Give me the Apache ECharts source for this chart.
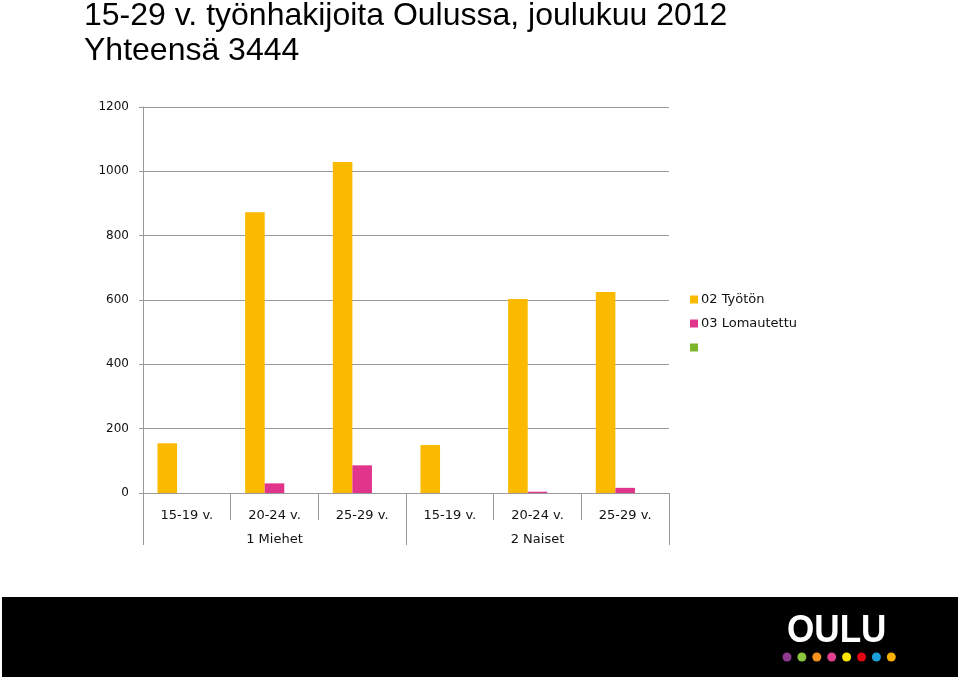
<!DOCTYPE html>
<html>
<head>
<meta charset="utf-8">
<script src="https://cdn.jsdelivr.net/npm/echarts@6/dist/echarts.min.js"></script>
<style>
html,body{margin:0;padding:0;background:#fff;}
#chart{width:960px;height:679px;}
</style>
</head>
<body>
<div id="chart"></div>
<script>
const titleLines = ['15-29 v. työnhakijoita Oulussa, joulukuu 2012', 'Yhteensä 3444'];
const ageCategories = ['15-19 v.', '20-24 v.', '25-29 v.', '15-19 v.', '20-24 v.', '25-29 v.'];
const groupCategories = ['1 Miehet', '2 Naiset'];
const seriesNames = ['02 Työtön', '03 Lomautettu', ' '];
const tyoton = [155, 873, 1029, 149, 603, 625];
const lomautettu = [0, 30, 86, 0, 4, 16];
const third = [0, 0, 0, 0, 0, 0];
const yTicks = { min: 0, max: 1200, interval: 200 };
const colors = ['#FBBA00', '#E0358A', '#7DB52A'];
const logoDots = ['#8E3A8E', '#8DC63F', '#F7941D', '#E0408F', '#FFE600', '#E30613', '#1A9FD9', '#F9B000'];

const chart = echarts.init(document.getElementById('chart'), null, { renderer: 'canvas' });
const grey = '#9A9A9A';
const lblFont = 'DejaVu Sans';

const graphics = [
  { type: 'rect', shape: { x: 2, y: 597, width: 956, height: 80 }, style: { fill: '#000' }, silent: true },
  { type: 'text', x: 787, y: 612, scaleX: 0.9, style: { text: 'OULU', fill: '#fff', font: 'bold 39px "Liberation Sans", Arial, sans-serif', textVerticalAlign: 'top' }, silent: true }
];
logoDots.forEach((c, i) => {
  graphics.push({ type: 'circle', shape: { cx: 787 + i * 14.9, cy: 657, r: 4.5 }, style: { fill: c }, silent: true });
});

chart.setOption({
  animation: false,
  color: colors,
  title: [
    { text: titleLines[0], left: 84, top: 0, padding: 0, textStyle: { fontFamily: 'Liberation Sans', fontSize: 32, fontWeight: 'normal', color: '#000' } },
    { text: titleLines[1], left: 84, top: 35, padding: 0, textStyle: { fontFamily: 'Liberation Sans', fontSize: 32, fontWeight: 'normal', color: '#000' } }
  ],
  legend: {
    orient: 'vertical', left: 690, top: 293, padding: 0,
    itemWidth: 8, itemHeight: 8, itemGap: 11,
    icon: 'rect',
    data: seriesNames.map(n => ({ name: n })),
    textStyle: { fontFamily: lblFont, fontSize: 13, color: '#111', padding: [0, 0, 0, -2] }
  },
  grid: { left: 143, right: 291, top: 107, bottom: 186, containLabel: false },
  xAxis: [
    {
      type: 'category', data: ageCategories, position: 'bottom',
      axisLine: { show: true, lineStyle: { color: grey, width: 1 } },
      axisTick: { show: true, length: 27, lineStyle: { color: grey } },
      axisLabel: { margin: 16, fontFamily: lblFont, fontSize: 13, color: '#111' }
    },
    {
      type: 'category', data: groupCategories, position: 'bottom', offset: 0,
      axisLine: { show: false },
      axisTick: { show: true, length: 52, lineStyle: { color: grey } },
      axisLabel: { margin: 40, fontFamily: lblFont, fontSize: 13, color: '#111' }
    }
  ],
  yAxis: {
    type: 'value', min: yTicks.min, max: yTicks.max, interval: yTicks.interval,
    axisLine: { show: true, lineStyle: { color: grey } },
    axisTick: { show: true, length: 4, lineStyle: { color: grey } },
    axisLabel: { margin: 14, fontFamily: lblFont, fontSize: 12, color: '#111', formatter: v => String(v) },
    splitLine: { show: true, lineStyle: { color: grey, width: 1 } }
  },
  series: [
    { name: seriesNames[0], type: 'bar', data: tyoton, barGap: '0%', barCategoryGap: '33%', itemStyle: { color: colors[0] } },
    { name: seriesNames[1], type: 'bar', data: lomautettu, barGap: '0%', barCategoryGap: '33%', itemStyle: { color: colors[1] } },
    { name: seriesNames[2], type: 'bar', data: third, barGap: '0%', barCategoryGap: '33%', itemStyle: { color: colors[2] } }
  ],
  graphic: graphics
});
</script>
</body>
</html>
